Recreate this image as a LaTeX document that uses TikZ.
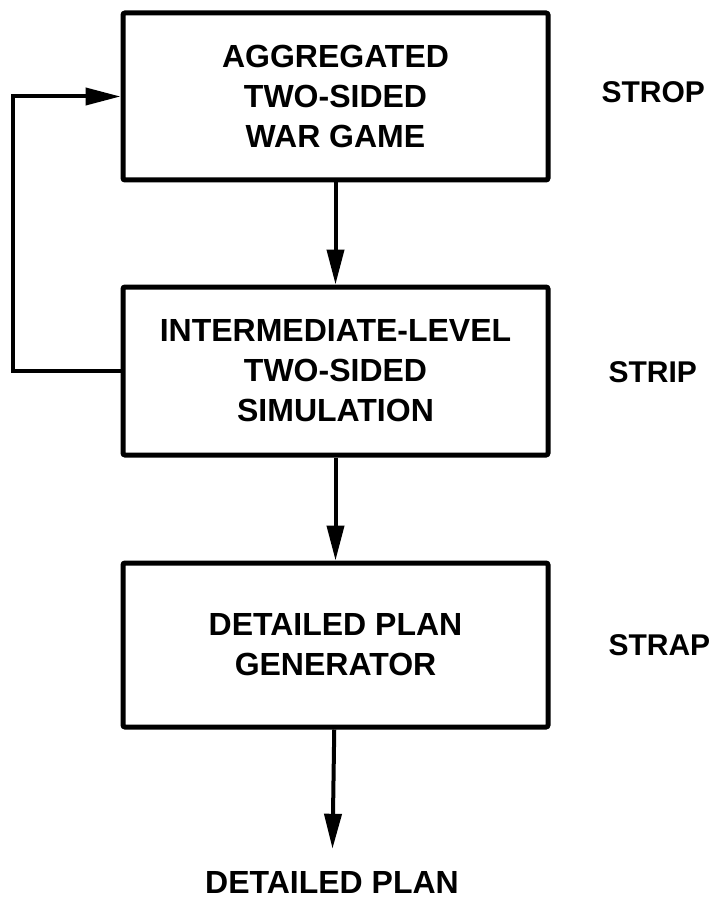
\documentclass[tikz,border=0pt]{standalone}
\usepackage{fontspec}
\setmainfont{Liberation Sans}
\usetikzlibrary{arrows.meta}
\tikzset{
  block/.style={draw, line width=5pt, rounded corners=2pt, align=center, font=\fontsize{32}{40}\selectfont\bfseries, minimum width=425pt, inner sep=0pt},
  flow/.style={-{Triangle[length=35pt, width=17pt]}, line width=4pt},
  tag/.style={anchor=west, font=\fontsize{30}{38}\selectfont\bfseries}
}

\begin{document}
\begin{tikzpicture}[x=1pt, y=-1pt]
  \useasboundingbox (0,0) rectangle (711,904);
  \node[block, minimum height=167pt] (game) at (335.5,96.5) {AGGREGATED\\ TWO-SIDED\\ WAR GAME};
  \node[block, minimum height=168pt] (sim) at (335.5,371) {INTERMEDIATE-LEVEL\\ TWO-SIDED\\ SIMULATION};
  \node[block, minimum height=164pt] (gen) at (335.5,645) {DETAILED PLAN\\ GENERATOR};
  \node[font=\fontsize{32}{40}\selectfont\bfseries, inner xsep=0pt, inner ysep=22pt] (plan) at (332,882) {DETAILED PLAN};
  \node[tag] (strop) at (598,92) {STROP};
  \node[tag] (strip) at (605,372) {STRIP};
  \node[tag] (strap) at (605,645) {STRAP};
  \draw[flow] (game) -- (sim);
  \draw[flow] (sim) -- (gen);
  \draw[flow] (gen) -- (plan);
  \draw[flow] (sim.west) -- ++(-108,0) |- (game.west);
\end{tikzpicture}
\end{document}
